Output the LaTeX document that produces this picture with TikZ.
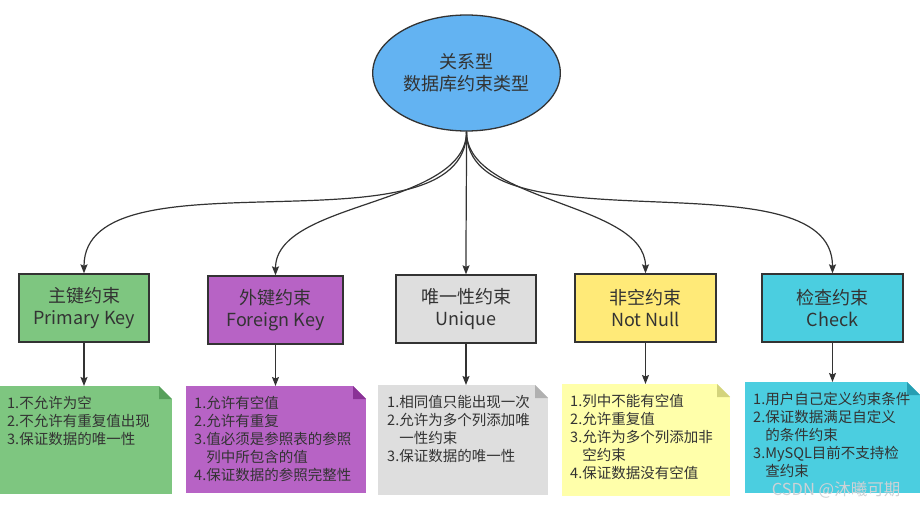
\documentclass[tikz,border=0pt]{standalone}
\usepackage{fontspec}
\setmainfont{Noto Sans CJK SC}
\usetikzlibrary{shapes,arrows.meta}

\definecolor{ink}{RGB}{51,51,51}
\definecolor{sky}{RGB}{99,179,242}
\definecolor{pkfill}{RGB}{126,198,128}
\definecolor{pkfold}{RGB}{86,160,90}
\definecolor{fkfill}{RGB}{183,99,197}
\definecolor{fkfold}{RGB}{138,50,150}
\definecolor{uqfill}{RGB}{222,222,222}
\definecolor{uqfold}{RGB}{176,176,176}
\definecolor{nnfill}{RGB}{255,234,120}
\definecolor{nnnote}{RGB}{255,255,170}
\definecolor{nnfold}{RGB}{212,212,124}
\definecolor{ckfill}{RGB}{75,206,224}
\definecolor{ckfold}{RGB}{38,158,178}
\definecolor{wm}{RGB}{205,210,214}

\tikzset{fold/.style={path picture={
  \fill[white] ([xshift=-13pt]path picture bounding box.north east) -- (path picture bounding box.north east)
    -- ([yshift=-13pt]path picture bounding box.north east) -- cycle;
  \fill[#1] ([xshift=-13pt]path picture bounding box.north east) -- ([xshift=-13pt,yshift=-13pt]path picture bounding box.north east)
    -- ([yshift=-13pt]path picture bounding box.north east) -- cycle;}}}

\begin{document}
\begin{tikzpicture}[->,>={Stealth[length=9pt,width=7pt,inset=1.5pt]},x=1pt,y=-1pt,every edge/.style={draw=ink,line width=1.2pt}]
\tikzstyle{cons}=[rectangle,draw=ink,line width=1.3pt,minimum height=68pt,align=center,text=ink,font=\fontsize{18}{22}\selectfont]
\tikzstyle{memo}=[rectangle,anchor=north west,inner sep=0pt,outer sep=0pt]
\tikzstyle{memotext}=[anchor=north west,align=left,inner sep=0pt,text=ink,font=\fontsize{14.5}{18}\selectfont]
\useasboundingbox (0,0) rectangle (920,508);

\node[ellipse,draw=ink,line width=1.3pt,fill=sky,minimum width=167pt,minimum height=116pt,align=center,text=ink,font=\fontsize{18}{22}\selectfont] (TYPE) at (466.5,73) {关系型\\数据库约束类型};

% constraint boxes
\node[cons,fill=pkfill,minimum width=130pt] (PK) at (84,308) {主键约束\\Primary Key};
\node[cons,fill=fkfill,minimum width=135pt] (FK) at (275.5,310) {外键约束\\Foreign Key};
\node[cons,fill=uqfill,minimum width=140pt] (UQ) at (466,309) {唯一性约束\\Unique};
\node[cons,fill=nnfill,minimum width=141pt] (NN) at (645.5,308) {非空约束\\Not Null};
\node[cons,fill=ckfill,minimum width=141pt] (CK) at (832.5,308) {检查约束\\Check};

% notes
\node[memo,fill=pkfill,fold=pkfold,minimum width=172pt,minimum height=108pt] (PKN) at (0,386) {};
\node[memo,fill=fkfill,fold=fkfold,minimum width=180pt,minimum height=107pt] (FKN) at (186,386) {};
\node[memo,fill=uqfill,fold=uqfold,minimum width=170pt,minimum height=110pt] (UQN) at (378,385) {};
\node[memo,fill=nnnote,fold=nnfold,minimum width=168pt,minimum height=112pt] (NNN) at (562,384) {};
\node[memo,fill=ckfill,fold=ckfold,minimum width=175pt,minimum height=111pt] (CKN) at (745,382) {};

\node[memotext] (PKT) at ([xshift=7pt,yshift=-10pt]PKN.north west) {1.不允许为空\\2.不允许有重复值出现\\3.保证数据的唯一性};
\node[memotext] (FKT) at ([xshift=8pt,yshift=-10pt]FKN.north west) {1.允许有空值\\2.允许有重复\\3.值必须是参照表的参照\\\phantom{3.}列中所包含的值\\4.保证数据的参照完整性};
\node[memotext] (UQT) at ([xshift=9pt,yshift=-10pt]UQN.north west) {1.相同值只能出现一次\\2.允许为多个列添加唯\\\phantom{2.}一性约束\\3.保证数据的唯一性};
\node[memotext] (NNT) at ([xshift=8pt,yshift=-10pt]NNN.north west) {1.列中不能有空值\\2.允许重复值\\3.允许为多个列添加非\\\phantom{3.}空约束\\4.保证数据没有空值};
\node[memotext] (CKT) at ([xshift=8pt,yshift=-10pt]CKN.north west) {1.用户自己定义约束条件\\2.保证数据满足自定义\\\phantom{2.}的条件约束\\3.MySQL目前不支持检\\\phantom{3.}查约束};

\node[text=wm,font=\fontsize{16.5}{18}\selectfont] (MARK) at (836,490) {CSDN @沐曦可期};

\path (TYPE) edge[out=-90,in=90,looseness=0.8] (PK)
             edge[out=-90,in=90,looseness=0.8] (FK)
             edge[out=-90,in=90] (UQ)
             edge[out=-90,in=90,looseness=0.8] (NN)
             edge[out=-90,in=90,looseness=0.8] (CK)
      (PK) edge (PK |- PKN.north)
      (FK) edge (FK |- FKN.north)
      (UQ) edge (UQ |- UQN.north)
      (NN) edge (NN |- NNN.north)
      (CK) edge (CK |- CKN.north);
\end{tikzpicture}
\end{document}
